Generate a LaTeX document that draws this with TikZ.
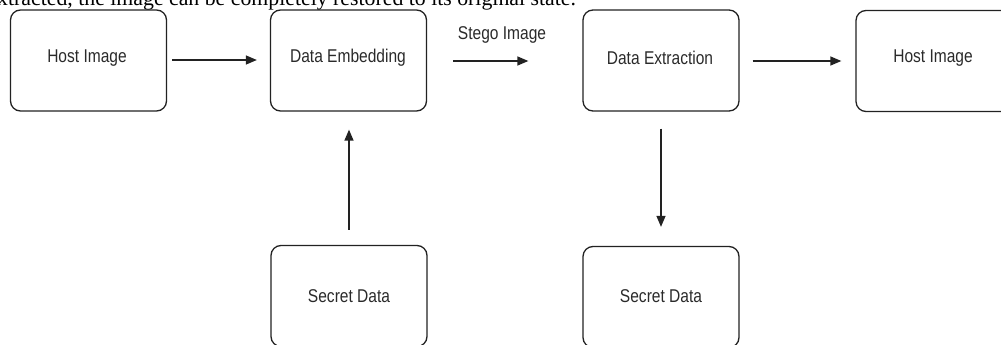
\documentclass[tikz,border=0pt]{standalone}
\usepackage{fontspec}
\setmainfont{Liberation Serif}
\newfontfamily\boxfont[FakeStretch=0.84]{Liberation Sans}
\usetikzlibrary{arrows.meta}
\definecolor{lineclr}{HTML}{222222}
\definecolor{txtclr}{HTML}{2A2A2A}
\tikzset{
  procbox/.style={draw=lineclr, line width=1.3pt, rounded corners=10pt,
    minimum width=156pt, minimum height=101pt, inner sep=0pt},
  boxlabel/.style={font=\boxfont\fontsize{18.5}{20}\selectfont, text=txtclr, inner sep=0pt},
  flow/.style={draw=lineclr, line width=1.4pt, -{Triangle[length=11pt,width=9pt]}},
}
\begin{document}
\begin{tikzpicture}[x=1pt,y=-1pt]
\useasboundingbox (0,0) rectangle (1001,345);
\clip (0,0) rectangle (1001,345);
% top cut-off sentence
\node[anchor=base west, inner sep=0pt, font=\fontsize{21.8}{24}\selectfont] (cap) at (-3,6)
  {xtracted, the image can be completely restored to its original state.};
% boxes
\node[procbox] (h1) at (88.5,60.5) {};
\node[procbox] (de) at (348.5,60.5) {};
\node[procbox] (dx) at (661,60.5) {};
\node[procbox] (h2) at (934,61) {};
\node[procbox] (s1) at (349,296) {};
\node[procbox] (s2) at (661,297) {};
% labels
\node[boxlabel] (lh1) at (87,58) {Host Image};
\node[boxlabel] (lde) at (348,58) {Data Embedding};
\node[boxlabel] (ldx) at (660,58) {Data Extraction};
\node[boxlabel] (lh2) at (933,58) {Host Image};
\node[boxlabel] (ls1) at (349,296) {Secret Data};
\node[boxlabel] (ls2) at (661,296) {Secret Data};
\node[boxlabel] (lst) at (502,35) {Stego Image};
% connectors
\coordinate (a1s) at (h1.east |- 0,60);
\coordinate (a1e) at (de.west |- 0,60);
\draw[flow, shorten <=5pt, shorten >=13pt] (a1s) -- (a1e);
\coordinate (a2s) at (de.east |- 0,61);
\coordinate (a2e) at (dx.west |- 0,61);
\draw[flow, shorten <=26pt, shorten >=54pt] (a2s) -- (a2e);
\coordinate (a3s) at (dx.east |- 0,61);
\coordinate (a3e) at (h2.west |- 0,61);
\draw[flow, shorten <=13pt, shorten >=14pt] (a3s) -- (a3e);
\draw[flow, shorten <=15pt, shorten >=18pt] (s1.north) -- (de.south -| s1.north);
\draw[flow, shorten <=17pt, shorten >=19pt] (dx.south) -- (s2.north);
\end{tikzpicture}
\end{document}
